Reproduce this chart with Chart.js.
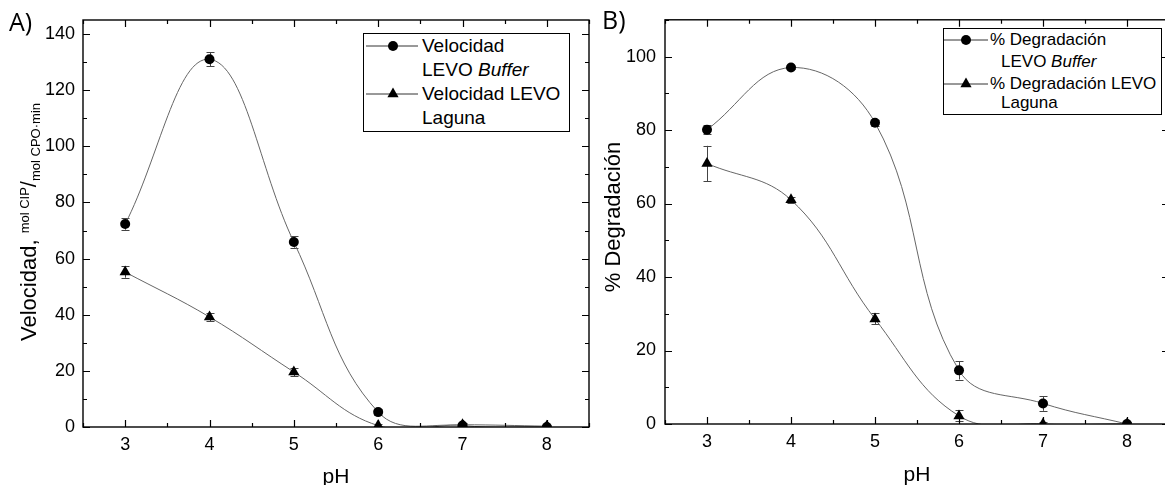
<!DOCTYPE html>
<html>
<head>
<meta charset="utf-8">
<script src="https://cdn.jsdelivr.net/npm/chart.js@4.4.1/dist/chart.umd.min.js"></script>
<style>
html,body{margin:0;padding:0;background:#fff;}
body{width:1165px;height:485px;overflow:hidden;position:relative;font-family:'Liberation Sans',Arial,sans-serif;color:#000;}
canvas{position:absolute;top:0;}
#cA{left:0;}
#cB{left:600px;}
.abs{position:absolute;white-space:nowrap;}
.panel{font-family:'Open Sans',sans-serif;font-size:25px;line-height:1;}
.axt{font-size:21px;line-height:1;transform:translate(-50%,-50%);}
.yt{font-size:22px;line-height:1;transform:translate(-50%,-50%) rotate(-90deg);}
.yt .sup{font-size:13px;position:relative;top:-7px;}
.yt .sub{font-size:13px;position:relative;top:4px;}
.legend{position:absolute;border:1px solid #000;background:#fff;}
.legend .row{position:absolute;white-space:nowrap;}
.legend svg{position:absolute;}
</style>
</head>
<body>
<canvas id="cA" width="600" height="485"></canvas>
<canvas id="cB" width="600" height="485"></canvas>

<div class="abs panel" style="left:9px;top:9px;">A)</div>
<div class="abs panel" style="left:602px;top:7px;">B)</div>

<div class="abs axt" style="left:336px;top:475px;">pH</div>
<div class="abs axt" style="left:917px;top:473px;">pH</div>

<div class="abs yt" style="left:29px;top:222px;">Velocidad, <span class="sup">mol CIP</span>/<span class="sub">mol CPO·min</span></div>
<div class="abs yt" style="left:613px;top:217px;">% Degradación</div>

<div class="legend" style="left:363px;top:33px;width:205px;height:97px;font-size:19px;">
  <svg width="60" height="97" style="left:0;top:0;">
    <line x1="2" y1="12" x2="54" y2="12" stroke="#333" stroke-width="1"/>
    <circle cx="29" cy="12" r="5" fill="#000"/>
    <line x1="2" y1="60" x2="54" y2="60" stroke="#333" stroke-width="1"/>
    <polygon points="29,53.5 34.6,63.25 23.4,63.25" fill="#000"/>
  </svg>
  <div class="row" style="left:58px;top:1px;line-height:22px;">Velocidad</div>
  <div class="row" style="left:58px;top:25px;line-height:22px;">LEVO <i>Buffer</i></div>
  <div class="row" style="left:58px;top:49px;line-height:22px;">Velocidad LEVO</div>
  <div class="row" style="left:58px;top:73px;line-height:22px;">Laguna</div>
</div>

<div class="legend" style="left:943px;top:28px;width:217px;height:85px;font-size:17px;">
  <svg width="50" height="85" style="left:0;top:0;">
    <line x1="0" y1="11" x2="44" y2="11" stroke="#333" stroke-width="1"/>
    <circle cx="22" cy="11" r="5" fill="#000"/>
    <line x1="0" y1="55" x2="44" y2="55" stroke="#333" stroke-width="1"/>
    <polygon points="22,48.5 27.6,58.25 16.4,58.25" fill="#000"/>
  </svg>
  <div class="row" style="left:46px;top:1px;line-height:20px;">% Degradación</div>
  <div class="row" style="left:57px;top:23px;line-height:20px;">LEVO <i>Buffer</i></div>
  <div class="row" style="left:46px;top:45px;line-height:20px;">% Degradación LEVO</div>
  <div class="row" style="left:57px;top:64px;line-height:20px;">Laguna</div>
</div>

<script>
// ---- data ----
const pH = [3, 4, 5, 6, 7, 8];
const velBuffer    = [72.3, 131, 65.9, 5.3, 0.5, 0];
const velBufferErr = [2, 2.5, 2, 1, 0.5, 0.5];
const velLaguna    = [55.2, 39.2, 19.6, 0.5, 0.8, 0.3];
const velLagunaErr = [2, 1.5, 1.5, 0.5, 0.5, 0.5];
const degBuffer    = [80.1, 97, 82, 14.6, 5.6, 0];
const degBufferErr = [1.2, 0.5, 0.8, 2.5, 2, 0.5];
const degLaguna    = [70.9, 61, 28.6, 2.2, 0, 0];
const degLagunaErr = [4.8, 0.8, 1.5, 1.5, 0.5, 0.5];
const xTicks  = [3, 4, 5, 6, 7, 8];
const yTicksA = [0, 20, 40, 60, 80, 100, 120, 140];
const yTicksB = [0, 20, 40, 60, 80, 100];

Chart.defaults.font.family = "'Liberation Sans', Arial, sans-serif";
Chart.defaults.font.size = 18;
Chart.defaults.color = '#000';

const errorBarPlugin = {
  id: 'errorBars',
  beforeDatasetsDraw(chart) {
    const ctx = chart.ctx, a = chart.chartArea;
    const xs = chart.scales.x, ys = chart.scales.y;
    ctx.save();
    ctx.beginPath(); ctx.rect(a.left, a.top, a.right - a.left, a.bottom - a.top); ctx.clip();
    ctx.strokeStyle = '#444'; ctx.lineWidth = 1;
    chart.data.datasets.forEach(ds => {
      if (!ds.errors) return;
      ds.data.forEach((p, j) => {
        const e = ds.errors[j];
        const x = Math.round(xs.getPixelForValue(p.x)) + 0.5;
        const y1 = ys.getPixelForValue(p.y + e), y2 = ys.getPixelForValue(p.y - e);
        ctx.beginPath();
        ctx.moveTo(x, y1); ctx.lineTo(x, y2);
        ctx.moveTo(x - 4, Math.round(y1) + 0.5); ctx.lineTo(x + 4, Math.round(y1) + 0.5);
        ctx.moveTo(x - 4, Math.round(y2) + 0.5); ctx.lineTo(x + 4, Math.round(y2) + 0.5);
        ctx.stroke();
      });
    });
    ctx.restore();
  }
};

function minorVals(majors, min, max) {
  const step = (majors[1] - majors[0]) / 2;
  const out = [];
  for (let v = Math.ceil(min / step) * step; v <= max + 1e-9; v += step) {
    if (!majors.some(m => Math.abs(m - v) < 1e-9)) out.push(v);
  }
  return out;
}

const framePlugin = {
  id: 'frame',
  afterDraw(chart) {
    const ctx = chart.ctx, a = chart.chartArea;
    const xs = chart.scales.x, ys = chart.scales.y;
    ctx.save();
    ctx.strokeStyle = '#000'; ctx.lineWidth = 1.4;
    ctx.strokeRect(a.left, a.top, a.right - a.left, a.bottom - a.top);
    ctx.lineWidth = 1.2;
    const xMaj = xs.ticks.map(t => t.value), yMaj = ys.ticks.map(t => t.value);
    const xMin = minorVals(xMaj, xs.min, xs.max), yMin = minorVals(yMaj, ys.min, ys.max);
    ctx.beginPath();
    const xt = (vals, len) => vals.forEach(v => {
      const x = Math.round(xs.getPixelForValue(v)) + 0.5;
      ctx.moveTo(x, a.bottom); ctx.lineTo(x, a.bottom - len);
      ctx.moveTo(x, a.top); ctx.lineTo(x, a.top + len);
    });
    const yt = (vals, len) => vals.forEach(v => {
      const y = Math.round(ys.getPixelForValue(v)) + 0.5;
      ctx.moveTo(a.left, y); ctx.lineTo(a.left + len, y);
      ctx.moveTo(a.right, y); ctx.lineTo(a.right - len, y);
    });
    xt(xMaj, 7); xt(xMin, 4); yt(yMaj, 7); yt(yMin, 4);
    ctx.stroke();
    ctx.restore();
  }
};

function series(ys, errs, style, radius) {
  return {
    data: pH.map((x, i) => ({ x: x, y: ys[i] })),
    errors: errs,
    borderColor: '#666',
    borderWidth: 1,
    backgroundColor: '#000',
    pointBackgroundColor: '#000',
    pointBorderColor: '#000',
    pointBorderWidth: 0,
    pointStyle: style,
    pointRadius: radius,
    tension: 0.4,
    clip: 0,
    fill: false
  };
}

function makeChart(id, sets, yTicks, yMax, geo) {
  return new Chart(document.getElementById(id), {
    type: 'line',
    data: { datasets: sets },
    options: {
      responsive: false,
      animation: false,
      devicePixelRatio: 1,
      elements: { line: { capBezierPoints: false } },
      layout: { padding: { left: 0, right: geo.padR, top: geo.padT, bottom: 0 } },
      plugins: { legend: { display: false }, tooltip: { enabled: false } },
      events: [],
      scales: {
        x: {
          type: 'linear', min: 2.5, max: 8.5,
          grid: { display: false, drawTicks: false },
          border: { display: false },
          afterBuildTicks: s => { s.ticks = xTicks.map(v => ({ value: v })); },
          afterFit: s => { s.height = geo.xH; },
          ticks: { padding: 7, autoSkip: false, maxRotation: 0, color: '#000',
                   font: { size: 18, family: "'Liberation Sans', Arial, sans-serif" } }
        },
        y: {
          type: 'linear', min: 0, max: yMax,
          grid: { display: false, drawTicks: false },
          border: { display: false },
          afterBuildTicks: s => { s.ticks = yTicks.map(v => ({ value: v })); },
          afterFit: s => { s.width = geo.yW; },
          ticks: { padding: geo.yPad, autoSkip: false, color: '#000',
                   font: { size: 18, family: "'Liberation Sans', Arial, sans-serif" } }
        }
      }
    },
    plugins: [errorBarPlugin, framePlugin]
  });
}

makeChart('cA', [
  series(velBuffer, velBufferErr, 'circle', 5),
  series(velLaguna, velLagunaErr, 'triangle', 6.5)
], yTicksA, 145, { padR: 11, padT: 20, xH: 58, yW: 83, yPad: 8 });

makeChart('cB', [
  series(degBuffer, degBufferErr, 'circle', 5),
  series(degLaguna, degLagunaErr, 'triangle', 6.5)
], yTicksB, 110, { padR: 31, padT: 18, xH: 61, yW: 65, yPad: 9 });
</script>
</body>
</html>
